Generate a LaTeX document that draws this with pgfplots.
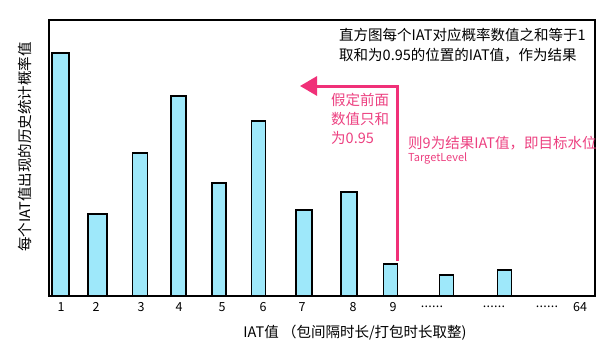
\documentclass[border=0pt]{standalone}
\usepackage{pgfplots}
\pgfplotsset{compat=1.18}
\usepackage{fontspec}
\setmainfont{Noto Sans CJK SC}
\usetikzlibrary{arrows.meta}
\definecolor{barfill}{RGB}{158,232,250}
\definecolor{pinkline}{RGB}{240,48,120}
\definecolor{pinktext}{RGB}{236,64,128}
\newcommand{\fs}{\fontsize{14.5}{17}\selectfont}
\protected\def\dd{.\kern0.3pt.\kern0.3pt.\kern0.3pt.\kern0.3pt.\kern0.3pt.}
\begin{document}
\begin{tikzpicture}[x=1pt,y=1pt]
\path[use as bounding box] (0,0) rectangle (609,354);
\begin{axis}[
  at={(49pt,58pt)}, anchor=south west,
  scale only axis, width=546pt, height=276pt,
  xmin=49, xmax=595, ymin=0, ymax=276,
  clip=false,
  axis line style={line width=1.2pt},
  ytick=\empty,
  xtick={61,96,141,179,222,263,302,353,393,432,494,547,580},
  xticklabels={1,2,3,4,5,6,7,8,9,\dd,\dd,\dd,64},
  major tick length=0pt,
  /pgf/number format/assume math mode=true,
  xticklabel style={anchor=center, yshift=-11pt, font=\fontsize{12.5}{14}\selectfont},
  every axis plot/.append style={ybar, bar shift=0pt, fill=barfill, draw=black, line width=1.6pt},
]
\addplot[bar width=17.5] coordinates {(60.5,243)};
\addplot[bar width=19.5] coordinates {(97.5,82)};
\addplot[bar width=15] coordinates {(140,143)};
\addplot[bar width=15.5] coordinates {(178.5,200)};
\addplot[bar width=14.5] coordinates {(219,113)};
\addplot[bar width=14] coordinates {(258.5,175)};
\addplot[bar width=16.5] coordinates {(304,86)};
\addplot[bar width=16.5] coordinates {(349,104)};
\addplot[bar width=14] coordinates {(390.5,32)};
\addplot[bar width=14] coordinates {(446.5,21)};
\addplot[bar width=14] coordinates {(504.5,26)};

\draw[pinkline, line width=3pt, -{Triangle[length=17pt,width=19pt]}]
  (axis cs:397.7,35) -- (axis cs:397.7,210) -- (axis cs:300,210);

\node[anchor=west, inner sep=0pt, font=\fs] at (axis cs:339,261) {直方图每个IAT对应概率数值之和等于1};
\node[anchor=west, inner sep=0pt, font=\fs] at (axis cs:339,241) {取和为0.95的位置的IAT值，作为结果};

\node[anchor=west, inner sep=0pt, font=\fs, text=pinktext] at (axis cs:331,196) {假定前面};
\node[anchor=west, inner sep=0pt, font=\fs, text=pinktext] at (axis cs:331,177) {数值只和};
\node[anchor=west, inner sep=0pt, font=\fs, text=pinktext] at (axis cs:331,158) {为0.95};
\node[anchor=west, inner sep=0pt, font=\fs, text=pinktext] at (axis cs:408,153) {则9为结果IAT值，即目标水位};
\node[anchor=west, inner sep=0pt, font=\fontsize{11}{13}\selectfont, text=pinktext] at (axis cs:408,138) {TargetLevel};

\node[rotate=90, inner sep=0pt, font=\fs] at (axis cs:25,149) {每个IAT值出现的历史统计概率值};
\node[inner sep=0pt, font=\fs] at (axis cs:355,-37) {IAT值 （包间隔时长/打包时长取整)};
\end{axis}
\end{tikzpicture}
\end{document}
